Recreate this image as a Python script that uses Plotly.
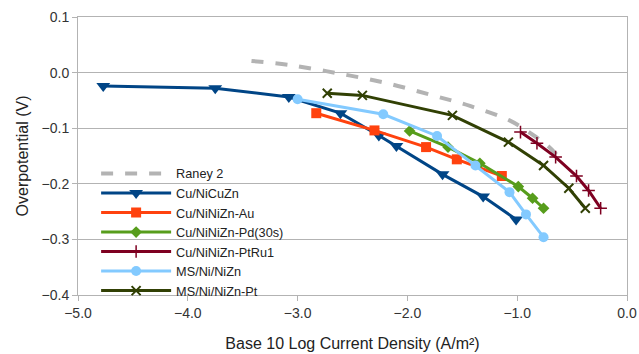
import plotly.graph_objects as go

# ---- data ----
raney_x = [-3.42, -3.07, -2.64, -2.19, -1.77, -1.43, -1.07, -0.88, -0.72, -0.58]
raney_y = [0.021, 0.0135, -0.001, -0.019, -0.041, -0.060, -0.086, -0.109, -0.132, -0.161]

cucuzn_x = [-4.77, -3.75, -3.08, -2.61, -2.26, -2.10, -1.68, -1.31, -1.01]
cucuzn_y = [-0.024, -0.028, -0.044, -0.073, -0.113, -0.132, -0.183, -0.223, -0.264]

au_x = [-2.83, -2.30, -1.83, -1.55, -1.14]
au_y = [-0.073, -0.104, -0.134, -0.156, -0.186]

pd_x = [-1.98, -1.63, -1.34, -0.99, -0.86, -0.76]
pd_y = [-0.105, -0.134, -0.163, -0.205, -0.226, -0.244]

ptru_x = [-0.97, -0.82, -0.65, -0.46, -0.35, -0.24]
ptru_y = [-0.107, -0.127, -0.152, -0.186, -0.212, -0.244]

msnizn_x = [-3.00, -2.22, -1.73, -1.38, -1.07, -0.92, -0.76]
msnizn_y = [-0.048, -0.075, -0.114, -0.167, -0.215, -0.255, -0.296]

mspt_x = [-2.73, -2.41, -1.59, -1.08, -0.76, -0.53, -0.38]
mspt_y = [-0.037, -0.041, -0.077, -0.125, -0.167, -0.208, -0.244]

x_ticks = [-5.0, -4.0, -3.0, -2.0, -1.0, 0.0]
y_ticks = [0.1, 0.0, -0.1, -0.2, -0.3, -0.4]

fig = go.Figure()

fig.add_trace(go.Scatter(x=raney_x, y=raney_y, mode="lines", name="Raney 2",
                         line=dict(color="#b3b3b3", width=4, dash="dash", shape="spline")))
fig.add_trace(go.Scatter(x=cucuzn_x, y=cucuzn_y, mode="lines+markers", name="Cu/NiCuZn",
                         line=dict(color="#004586", width=3),
                         marker=dict(symbol="triangle-down", size=12, color="#004586")))
fig.add_trace(go.Scatter(x=au_x, y=au_y, mode="lines+markers", name="Cu/NiNiZn-Au",
                         line=dict(color="#ff420e", width=3),
                         marker=dict(symbol="square", size=10, color="#ff420e")))
fig.add_trace(go.Scatter(x=pd_x, y=pd_y, mode="lines+markers", name="Cu/NiNiZn-Pd(30s)",
                         line=dict(color="#579d1c", width=3),
                         marker=dict(symbol="diamond", size=9, color="#579d1c")))
fig.add_trace(go.Scatter(x=ptru_x, y=ptru_y, mode="lines+markers", name="Cu/NiNiZn-PtRu1",
                         line=dict(color="#7e0021", width=3),
                         marker=dict(symbol="cross-thin", size=9, color="#7e0021",
                                     line=dict(color="#7e0021", width=1.5))))
fig.add_trace(go.Scatter(x=msnizn_x, y=msnizn_y, mode="lines+markers", name="MS/Ni/NiZn",
                         line=dict(color="#83caff", width=3),
                         marker=dict(symbol="circle", size=10, color="#83caff")))
fig.add_trace(go.Scatter(x=mspt_x, y=mspt_y, mode="lines+markers", name="MS/Ni/NiZn-Pt",
                         line=dict(color="#314004", width=3),
                         marker=dict(symbol="x-thin", size=9, color="#314004",
                                     line=dict(color="#314004", width=2))))

axis_common = dict(showline=True, linecolor="#b3b3b3", linewidth=1, mirror=True,
                   ticks="outside", tickcolor="#b3b3b3", ticklen=5, automargin=False,
                   zeroline=False, tickfont=dict(size=14, color="#333333"))

fig.update_xaxes(range=[-5, 0], tickvals=x_ticks, tickformat=".1f", showgrid=False,
                 title=dict(text="Base 10 Log Current Density (A/m²)",
                            font=dict(size=16, color="#222222"), standoff=18),
                 **axis_common)
fig.update_yaxes(range=[-0.4, 0.1], tickvals=y_ticks, tickformat=".1f", showgrid=True,
                 gridcolor="#b3b3b3", gridwidth=1,
                 title=dict(text="Overpotential (V)", font=dict(size=16, color="#222222"),
                            standoff=8),
                 **axis_common)

fig.update_layout(
    width=639, height=354,
    margin=dict(l=78, r=12, t=17, b=59, autoexpand=False),
    paper_bgcolor="white", plot_bgcolor="white",
    font=dict(family="Liberation Sans, Arial, sans-serif", color="#222222"),
    legend=dict(x=0.033, y=0.49, xanchor="left", yanchor="top",
                bgcolor="rgba(0,0,0,0)", font=dict(size=12.7, color="#222222"),
                tracegroupgap=0, itemwidth=70),
    showlegend=True,
)

fig.write_html("out.html",
               config={"displayModeBar": False},
               post_script="document.body.style.margin='0';"
                           "document.body.style.overflow='hidden';")
